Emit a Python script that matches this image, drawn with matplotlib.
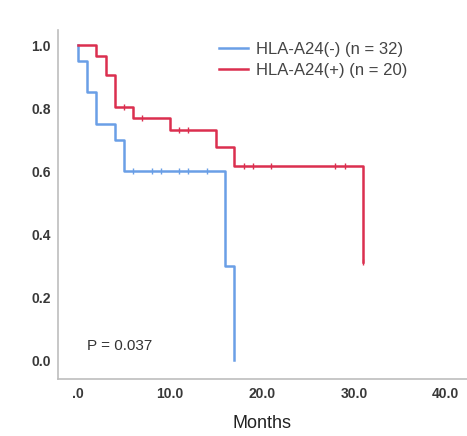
import matplotlib
matplotlib.use("Agg")
import matplotlib.pyplot as plt

plt.rcParams['font.family'] = ['Liberation Sans', 'DejaVu Sans']

# Kaplan-Meier steps (event times and survival after each event)
neg_times = [0, 1, 2, 4, 5, 16, 17]
neg_surv = [0.95, 0.85, 0.75, 0.70, 0.60, 0.30, 0.0]
neg_cens_t = [6, 8, 9, 11, 12, 14]
neg_cens_s = [0.60, 0.60, 0.60, 0.60, 0.60, 0.60]

pos_times = [2, 3, 4, 6, 10, 15, 17, 31]
pos_surv = [0.965, 0.905, 0.805, 0.77, 0.73, 0.675, 0.615, 0.31]
pos_cens_t = [5, 7, 11, 12, 18, 19, 21, 28, 29, 31]
pos_cens_s = [0.805, 0.77, 0.73, 0.73, 0.615, 0.615, 0.615, 0.615, 0.615, 0.31]

x_ticks = [0, 10, 20, 30, 40]
x_labels = ['.0', '10.0', '20.0', '30.0', '40.0']
y_ticks = [0.0, 0.2, 0.4, 0.6, 0.8, 1.0]
y_labels = ['0.0', '0.2', '0.4', '0.6', '0.8', '1.0']

blue = '#6a9fe6'
red = '#db2f4f'

fig = plt.figure(figsize=(4.67, 4.36), dpi=100)
ax = fig.add_axes([58 / 467, 1 - 379 / 436, (467 - 58) / 467, (379 - 30) / 436])

ax.step([0] + neg_times, [1.0] + neg_surv, where='post', color=blue, lw=1.8,
        label='HLA-A24(-) (n = 32)')
ax.step([0] + pos_times, [1.0] + pos_surv, where='post', color=red, lw=1.8,
        label='HLA-A24(+) (n = 20)')
ax.plot(neg_cens_t, neg_cens_s, ls='none', marker='|', ms=5, mew=1.0, color=blue)
ax.plot(pos_cens_t, pos_cens_s, ls='none', marker='|', ms=5, mew=1.0, color=red)

ax.set_xlim(-2.17, 42.3)
ax.set_ylim(-0.06, 1.048)
ax.set_xticks(x_ticks)
ax.set_xticklabels(x_labels)
ax.set_yticks(y_ticks)
ax.set_yticklabels(y_labels)
ax.tick_params(length=0, labelsize=10, labelcolor='#383838')
ax.tick_params(axis='x', pad=6)
ax.tick_params(axis='y', pad=5)
for lab in ax.get_xticklabels() + ax.get_yticklabels():
    lab.set_fontweight('bold')

for side in ['top', 'right']:
    ax.spines[side].set_visible(False)
for side in ['left', 'bottom']:
    ax.spines[side].set_color('#bdbdbd')
    ax.spines[side].set_linewidth(1.2)

ax.set_xlabel('Months', fontsize=13, color='#222222', labelpad=10)

ax.text(1.0, 0.045, 'P = 0.037', fontsize=11, color='#333333', va='center')

leg = ax.legend(loc='upper left', bbox_to_anchor=((207 - 58) / 409, 1.0), frameon=False,
                fontsize=12, handlelength=1.75, handletextpad=0.5, labelspacing=0.4,
                borderaxespad=0.3)
for t in leg.get_texts():
    t.set_color('#444444')

fig.savefig('out.png', dpi=100)
